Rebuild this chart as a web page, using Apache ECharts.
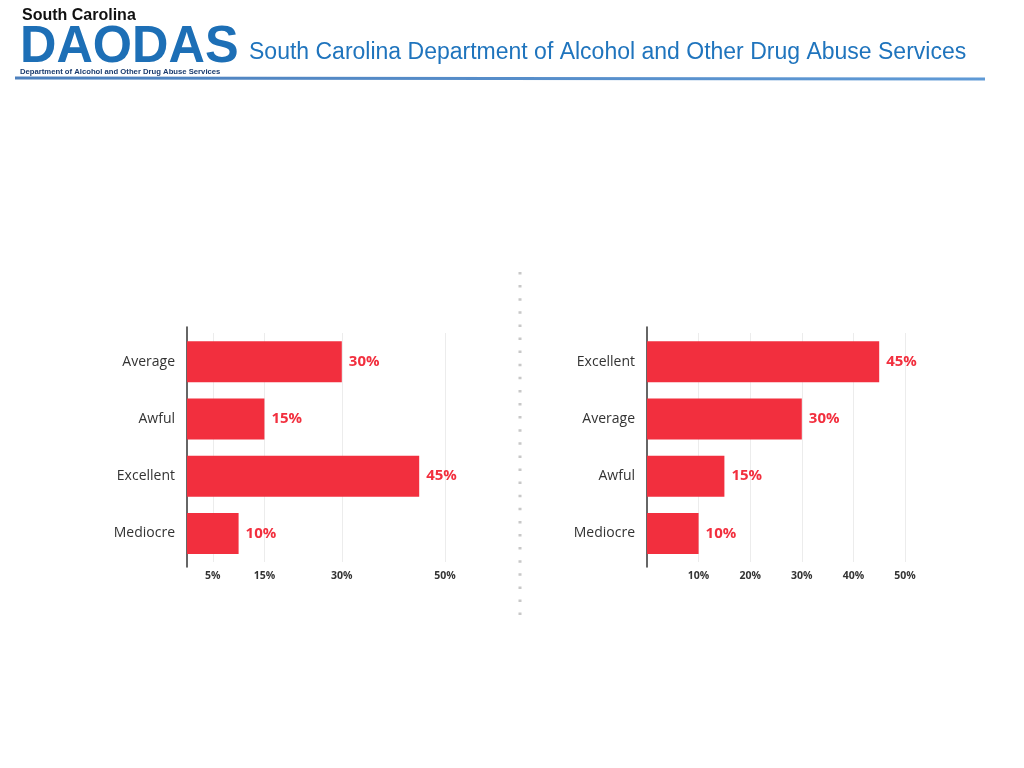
<!DOCTYPE html>
<html><head><meta charset="utf-8">
<script src="https://cdn.jsdelivr.net/npm/echarts@6/dist/echarts.min.js"></script>
<style>html,body{margin:0;padding:0;background:#fff}#c{width:1024px;height:768px}</style>
</head><body><div id="c"></div>
<script>
const leftCategories = ['Average', 'Awful', 'Excellent', 'Mediocre'];
const leftValues = [30, 15, 45, 10];
const leftTicks = [5, 15, 30, 50];
const rightCategories = ['Excellent', 'Average', 'Awful', 'Mediocre'];
const rightValues = [45, 30, 15, 10];
const rightTicks = [10, 20, 30, 40, 50];

const RED = '#f22f3e';
const FONT = '"Open Sans", Lato, sans-serif';

function mainGrid(left){ return {left: left, width: 258, top: 333, height: 229, containLabel: false}; }
function lineGrid(left){ return {left: left, width: 258, top: 327, height: 240}; }

function xMain(idx, ticks){
  return {type:'value', gridIndex: idx, min:0, max:50,
    axisLine:{show:false}, axisTick:{show:false, customValues: ticks},
    axisLabel:{customValues: ticks, formatter: v => v + '%', color:'#333', fontSize:10.5, fontWeight:'bold', fontFamily:FONT, margin:9},
    splitLine:{show:true, lineStyle:{color:'#ececec', width:1}}};
}
function yMain(idx, cats){
  return {type:'category', gridIndex: idx, data: cats, inverse:true,
    axisLine:{show:false}, axisTick:{show:false},
    axisLabel:{color:'#333', fontSize:14, fontFamily:FONT, margin:12}};
}
function xLine(idx){ return {type:'value', gridIndex: idx, min:0, max:1, show:false}; }
function yLine(idx){
  return {type:'value', gridIndex: idx, min:0, max:1,
    axisLine:{show:true, lineStyle:{color:'#333', width:1.5}}, axisTick:{show:false},
    axisLabel:{show:false}, splitLine:{show:false}};
}
function barSeries(idx, vals){
  return {type:'bar', xAxisIndex: idx, yAxisIndex: idx, data: vals, barWidth: 41,
    itemStyle:{color: RED},
    label:{show:true, position:'right', distance:7, formatter: p => p.value + '%', color: RED, fontSize:15, fontWeight:'bold', fontFamily:FONT},
    silent:true};
}

const chart = echarts.init(document.getElementById('c'));
chart.setOption({
  animation:false,
  backgroundColor:'#fff',
  grid:[mainGrid(187), mainGrid(647), lineGrid(187), lineGrid(647)],
  xAxis:[xMain(0, leftTicks), xMain(1, rightTicks), xLine(2), xLine(3)],
  yAxis:[yMain(0, leftCategories), yMain(1, rightCategories), yLine(2), yLine(3)],
  series:[barSeries(0, leftValues), barSeries(1, rightValues)],
  graphic:[
    {type:'text', left:22, top:8, style:{text:'South Carolina', font:'bold 16px "Liberation Sans", Arial, sans-serif', fill:'#111'}},
    {type:'text', left:20, top:22, scaleX:0.97, style:{text:'DAODAS', font:'bold 52px "Liberation Sans", Arial, sans-serif', fill:'#1d6fb6'}},
    {type:'text', left:20, top:68, style:{text:'Department of Alcohol and Other Drug Abuse Services', font:'bold 7.7px "Liberation Sans", Arial, sans-serif', fill:'#1a3b6e'}},
    {type:'text', left:249, top:41, style:{text:'South Carolina Department of Alcohol and Other Drug Abuse Services', font:'23px "Liberation Sans Narrow", "Liberation Sans", sans-serif', fill:'#1f74bd'}},
    {type:'line', shape:{x1:15, y1:78, x2:985, y2:79}, style:{stroke:new echarts.graphic.LinearGradient(0,0,1,0,[{offset:0,color:'#4d80bd'},{offset:1,color:'#5f9ad6'}]), lineWidth:3}},
    {type:'line', shape:{x1:520, y1:272, x2:520, y2:618}, style:{stroke:'#c8c8c8', lineWidth:3, lineDash:[2.5, 10.6]}}
  ]
});
</script></body></html>
